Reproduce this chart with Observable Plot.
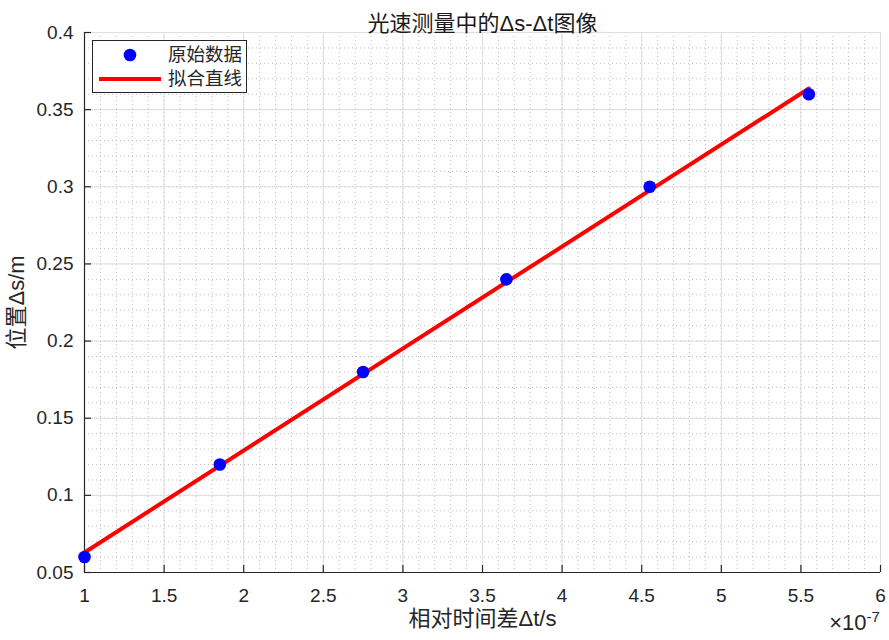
<!DOCTYPE html>
<html>
<head>
<meta charset="utf-8">
<script src="https://cdn.jsdelivr.net/npm/d3@7"></script>
<script src="https://cdn.jsdelivr.net/npm/@observablehq/plot@0.6"></script>
<style>
  html, body { margin: 0; padding: 0; background: #fff; }
  #wrap { position: relative; width: 889px; height: 640px; }
  #legend { position: absolute; left: 92px; top: 40px; width: 155px; height: 53px;
    border: 1px solid #262626; background: #fff; box-sizing: border-box;
    font-family: "Liberation Sans", "Noto Sans CJK SC", sans-serif; font-size: 18.5px; color: #262626; }
  #legend .row { position: absolute; left: 0; height: 24px; width: 100%; }
  #legend .lbl { position: absolute; left: 75px; top: 0; line-height: 24px; }
</style>
</head>
<body>
<div id="wrap">
  <div id="chart"></div>
  <div id="legend">
    <div class="row" style="top:2px">
      <svg width="70" height="24" style="position:absolute;left:0;top:0"><circle cx="37" cy="12" r="6.3" fill="#0000ff"/></svg>
      <span class="lbl">原始数据</span>
    </div>
    <div class="row" style="top:26px">
      <svg width="70" height="24" style="position:absolute;left:0;top:0"><line x1="6" x2="68" y1="12" y2="12" stroke="#ff0000" stroke-width="4"/></svg>
      <span class="lbl">拟合直线</span>
    </div>
  </div>
</div>
<script>
// Data (Δt in units of 1e-7 s, Δs in m)
const dtValues = [1, 1.85, 2.75, 3.65, 4.55, 5.55];
const dsValues = [0.06, 0.12, 0.18, 0.24, 0.30, 0.36];
// Fitted line endpoints
const fitX = [1, 5.55];
const fitY = [0.0630, 0.3637];
// Ticks
const xTicks = [1, 1.5, 2, 2.5, 3, 3.5, 4, 4.5, 5, 5.5, 6];
const xTickLabels = ["1", "1.5", "2", "2.5", "3", "3.5", "4", "4.5", "5", "5.5", "6"];
const yTicks = [0.05, 0.1, 0.15, 0.2, 0.25, 0.3, 0.35, 0.4];
const yTickLabels = ["0.05", "0.1", "0.15", "0.2", "0.25", "0.3", "0.35", "0.4"];
const xMinor = d3.ticks(1, 6, 50);
const yMinor = d3.ticks(0.05, 0.4, 35);

const titleText = "光速测量中的Δs-Δt图像";
const xLabelText = "相对时间差Δt/s";
const yLabelText = "位置Δs/m";

const points = dtValues.map((x, i) => ({x, y: dsValues[i]}));
const fit = fitX.map((x, i) => ({x, y: fitY[i]}));

const font = "'Liberation Sans', 'Noto Sans CJK SC', sans-serif";
const ink = "#262626";

const chart = Plot.plot({
  width: 889,
  height: 640,
  marginLeft: 84,
  marginRight: 9,
  marginTop: 32,
  marginBottom: 68,
  style: { fontFamily: font, background: "#fff", color: ink },
  x: { domain: [1, 6] },
  y: { domain: [0.05, 0.4] },
  marks: [
    // minor grid
    Plot.ruleX(xMinor, { x: d => d, stroke: "#bdbdbd", strokeDasharray: "1,3", strokeWidth: 1 }),
    Plot.ruleY(yMinor, { y: d => d, stroke: "#bdbdbd", strokeDasharray: "1,3", strokeWidth: 1 }),
    // major grid
    Plot.ruleX(xTicks, { x: d => d, stroke: "#dedede", strokeWidth: 1 }),
    Plot.ruleY(yTicks, { y: d => d, stroke: "#dedede", strokeWidth: 1 }),
    // axes lines
    Plot.ruleY([0.05], { stroke: ink, strokeWidth: 1.2 }),
    Plot.ruleX([1], { stroke: ink, strokeWidth: 1.2 }),
    // inward ticks
    Plot.tickX(xTicks, { x: d => d, insetTop: 533, stroke: ink, strokeWidth: 1.2 }),
    Plot.tickY(yTicks, { y: d => d, insetRight: 789, stroke: ink, strokeWidth: 1.2 }),
    // tick labels
    Plot.axisX({ ticks: xTicks, tickSize: 0, tickPadding: 16, tickFormat: (d, i) => xTickLabels[i], fontSize: 19, label: null, fill: ink }),
    Plot.axisY({ ticks: yTicks, tickSize: 0, tickPadding: 11, tickFormat: (d, i) => yTickLabels[i], fontSize: 19, label: null, fill: ink }),
    // data
    Plot.line(fit, { x: "x", y: "y", stroke: "#ff0000", strokeWidth: 4 }),
    Plot.dot(points, { x: "x", y: "y", r: 6.3, fill: "#0000ff", stroke: "none" }),
    // titles
    Plot.text([titleText], { frameAnchor: "top", dy: -17, fontSize: 22, fill: "#1a1a1a" }),
    Plot.text([xLabelText], { frameAnchor: "bottom", dy: 53, fontSize: 22, fill: ink }),
    Plot.text([yLabelText], { frameAnchor: "left", textAnchor: "middle", dx: -68, dy: 0, rotate: -90, fontSize: 22, fill: ink }),
    Plot.text(["×10"], { frameAnchor: "bottom-right", textAnchor: "end", dx: -14, dy: 57, fontSize: 22, fill: ink }),
    Plot.text(["-7"], { frameAnchor: "bottom-right", textAnchor: "start", dx: -14, dy: 49, fontSize: 15, fill: ink })
  ]
});
document.getElementById("chart").appendChild(chart);
</script>
</body>
</html>
